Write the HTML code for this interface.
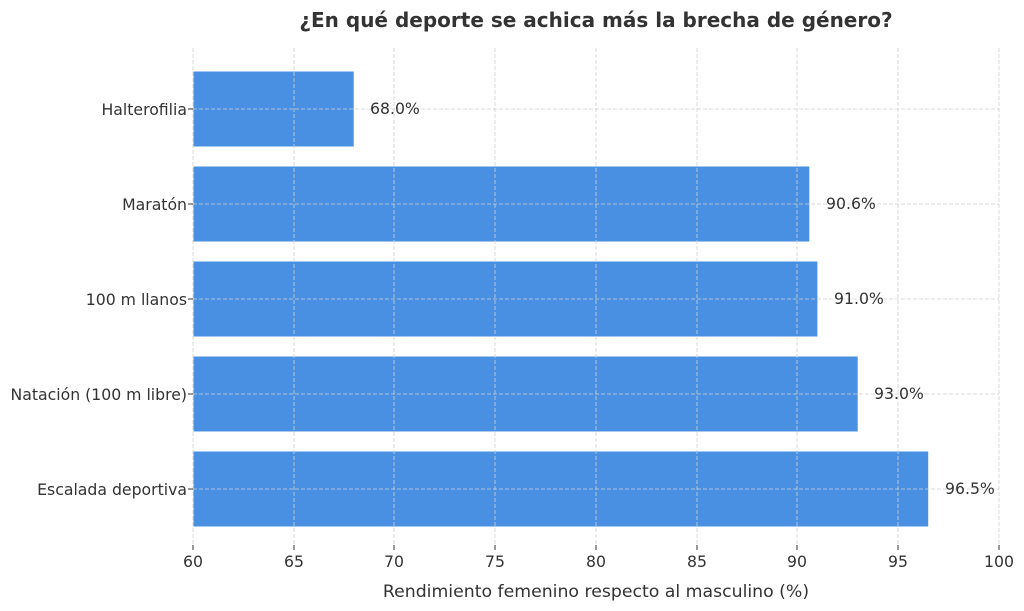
<!DOCTYPE html>
<html><head><meta charset="utf-8"><style>
html,body{margin:0;padding:0;background:#fff;}
svg{display:block;font-family:"DejaVu Sans","Liberation Sans",sans-serif;}
</style></head><body>
<svg width="1024" height="611" viewBox="0 0 1024 611" xmlns="http://www.w3.org/2000/svg">
<rect width="1024" height="611" fill="#fff"/>
<text x="596" y="27" text-anchor="middle" font-size="20" font-weight="bold" fill="#333">¿En qué deporte se achica más la brecha de género?</text>
<g fill="#4a90e2" stroke="#fff" stroke-width="1">
<rect x="193" y="71" width="161.2" height="76"/>
<rect x="193" y="166" width="616.8" height="76"/>
<rect x="193" y="261" width="624.9" height="76"/>
<rect x="193" y="356" width="665.2" height="76"/>
<rect x="193" y="451" width="735.7" height="76"/>
</g>
<g stroke="#cfcfcf" stroke-width="0.8" stroke-dasharray="4,2" fill="none">
<line x1="193" y1="48" x2="193" y2="545"/>
<line x1="294" y1="48" x2="294" y2="545"/>
<line x1="394" y1="48" x2="394" y2="545"/>
<line x1="495" y1="48" x2="495" y2="545"/>
<line x1="596" y1="48" x2="596" y2="545"/>
<line x1="697" y1="48" x2="697" y2="545"/>
<line x1="797" y1="48" x2="797" y2="545"/>
<line x1="898" y1="48" x2="898" y2="545"/>
<line x1="999" y1="48" x2="999" y2="545"/>
<line x1="193" y1="109" x2="999" y2="109"/>
<line x1="193" y1="204" x2="999" y2="204"/>
<line x1="193" y1="299" x2="999" y2="299"/>
<line x1="193" y1="394" x2="999" y2="394"/>
<line x1="193" y1="489" x2="999" y2="489"/>
</g>
<g stroke="#333" stroke-width="1">
<line x1="188" y1="109" x2="193" y2="109"/>
<line x1="188" y1="204" x2="193" y2="204"/>
<line x1="188" y1="299" x2="193" y2="299"/>
<line x1="188" y1="394" x2="193" y2="394"/>
<line x1="188" y1="489" x2="193" y2="489"/>
<line x1="193" y1="545" x2="193" y2="550"/>
<line x1="294" y1="545" x2="294" y2="550"/>
<line x1="394" y1="545" x2="394" y2="550"/>
<line x1="495" y1="545" x2="495" y2="550"/>
<line x1="596" y1="545" x2="596" y2="550"/>
<line x1="697" y1="545" x2="697" y2="550"/>
<line x1="797" y1="545" x2="797" y2="550"/>
<line x1="898" y1="545" x2="898" y2="550"/>
<line x1="999" y1="545" x2="999" y2="550"/>
</g>
<g font-size="15.7" fill="#333" text-anchor="end">
<text x="187" y="115">Halterofilia</text>
<text x="187" y="210">Maratón</text>
<text x="187" y="305">100 m llanos</text>
<text x="187" y="400">Natación (100 m libre)</text>
<text x="187" y="495">Escalada deportiva</text>
</g>
<g font-size="15.7" fill="#333">
<text x="370" y="114">68.0%</text>
<text x="826" y="209">90.6%</text>
<text x="834" y="304">91.0%</text>
<text x="874" y="399">93.0%</text>
<text x="945" y="494">96.5%</text>
</g>
<g font-size="15.7" fill="#333" text-anchor="middle">
<text x="193" y="567">60</text>
<text x="294" y="567">65</text>
<text x="394" y="567">70</text>
<text x="495" y="567">75</text>
<text x="596" y="567">80</text>
<text x="697" y="567">85</text>
<text x="797" y="567">90</text>
<text x="898" y="567">95</text>
<text x="999" y="567">100</text>
</g>
<text x="596" y="597" text-anchor="middle" font-size="17.3" fill="#333">Rendimiento femenino respecto al masculino (%)</text>
</svg>
</body></html>
